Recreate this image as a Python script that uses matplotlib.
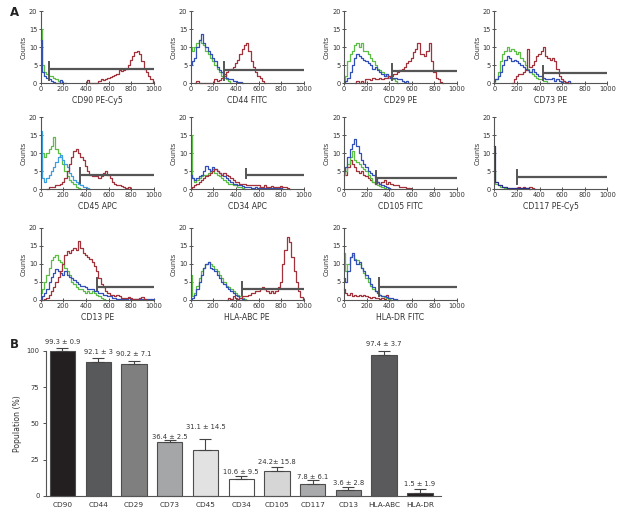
import numpy as np
import matplotlib
matplotlib.use('Agg')
import matplotlib.pyplot as plt

plt.rcParams['font.family'] = ['DejaVu Sans']

# ---- panel A: histogram curves, (first channel, counts every 20 channels) ----
cd90_green = (0, [15, 5, 3, 2.5, 2, 2, 1.5, 1, 0.5, 0])
cd90_blue = (0, [12, 3, 2, 1.5, 1, 0.5, 0.3, 0, 0, 0.8, 0, 0])
cd90_red = (400, [0, 0.8, 0, 0, 0, 0, 0.5, 1, 0.8, 1.2, 1.5, 1.6, 2, 2.3, 2.5, 3.5,
                  3.3, 3.6, 4, 5, 6.5, 7.5, 8.5, 9, 8, 6, 4, 3, 2, 1, 0])

cd44_green = (0, [10, 9, 10, 11, 12, 11, 10.5, 9, 8, 7, 6, 5, 4, 3, 2, 1.5, 1, 0.5, 0])
cd44_blue = (0, [5, 6, 7, 10, 12, 13.5, 11, 10, 9, 8, 7, 6, 4.5, 3.5, 3, 2.5, 1.5, 1,
                 1, 0.5, 0.5, 0.3, 0.3, 0])
cd44_red = (40, [0, 0.5, 0, 0, 0, 0, 0, 0, 0, 1, 0.5, 0.8, 1.5, 2, 3, 3.5, 4, 4.5,
                 5.5, 6.5, 8, 9.5, 10.5, 11, 9, 6, 4.5, 3, 2, 1.5, 0.5, 0])

cd29_green = (0, [0, 2, 6, 8, 9, 10.5, 11, 10, 11, 9, 9, 8, 7, 6, 5, 4, 3.5, 3, 2.5, 2,
                  1.5, 1.5, 1, 0.5, 0])
cd29_blue = (0, [0, 0.5, 1.5, 3, 5, 7, 8, 7.5, 7, 6.5, 6, 5.5, 5, 4, 4.5, 3.5, 3, 2.5,
                 2, 2.5, 2, 1.5, 1.5, 1.5, 1, 1, 0.5, 0.3, 0.5, 0])
cd29_red = (100, [0, 0.5, 0, 0.5, 0, 1, 1, 0.7, 1.5, 1, 1, 1.5, 1, 1.5, 1.5, 2, 2, 2.5,
                  2.5, 3, 3.5, 4, 4.5, 5.5, 6, 7, 8.5, 9.5, 11, 8, 8, 7.5, 9, 11, 6,
                  3, 1.5, 1, 0.3, 0])

cd73_green = (0, [0, 1, 3, 6, 8, 9, 10, 9, 9.5, 9, 8, 8.5, 7, 6, 5, 4, 3, 2.5, 2, 1.5,
                  1, 1, 0.5, 0.5, 0])
cd73_blue = (0, [0.5, 1, 2, 3, 5, 6.5, 7.5, 7, 6, 6.5, 6, 5.5, 5, 4.5, 4, 3.5, 3, 4, 3,
                 2.5, 2, 2, 1.5, 1, 1, 1, 1.5, 0.5, 1, 0.5, 0.3, 0.5, 0, 0.5, 0])
cd73_red = (160, [0, 1, 2, 2.5, 2.5, 3, 3.5, 9.5, 4.5, 5, 6, 7.5, 8, 9, 10, 7.5, 7,
                  6.5, 7, 6, 4, 2, 1, 0.5, 0.3, 0])

cd45_green = (0, [4, 10, 9, 10, 11, 12, 14.5, 11, 10, 9, 7, 5, 3.5, 2.5, 2, 1.5, 0.5,
                  0.3, 0])
cd45_cyan = (0, [16, 3, 2, 3, 4, 5, 6, 7.5, 9, 9.5, 8, 7, 6, 4.5, 3.5, 2.5, 2, 1.5, 1,
                 0.5, 0.5, 0.3, 0])
cd45_red = (60, [0, 0.5, 0.5, 0.5, 1, 1, 1.5, 2, 3, 5, 7, 9, 10.5, 11, 10, 9, 8, 6.5,
                 5, 4, 3.5, 3.5, 3.5, 3, 3.5, 4.5, 5, 4, 3, 2, 1.5, 1, 1, 0.7, 0.5,
                 0.3, 0.5, 0])

cd34_green = (0, [15, 3, 2, 2.5, 3, 3.5, 4, 4, 4.5, 5, 5.5, 4.5, 4, 3.5, 3, 2.5, 2,
                  1.5, 1.5, 1, 1, 0.5, 0.5, 0.3, 0])
cd34_blue = (0, [4, 3, 2.5, 3, 3.5, 4, 5, 6.5, 5.5, 5, 6, 5.5, 5, 4.5, 4, 3.5, 3, 2.5,
                 2, 1.5, 1.5, 1, 1, 0.8, 0.5, 0.5, 0.5, 0.3, 0.3, 0.5, 0.3, 0.3, 0.3,
                 0.2, 0.2, 0.2, 0.2, 0.2, 0.2, 0.2, 0.2, 0])
cd34_red = (0, [0, 0.5, 1, 1.5, 2, 2.5, 3, 3.5, 4, 4.5, 5, 5.5, 5, 4.5, 4, 4.5, 4, 3.5,
                3, 2.5, 2, 2, 1.5, 1.5, 1.5, 1, 1, 1, 1, 1, 1, 0.5, 0.5, 1, 0.5, 0.5,
                0.8, 0.5, 0.5, 0.5, 0.8, 0.5, 0.5, 0.3, 0])

cd105_green = (0, [4, 5, 7, 9, 10.5, 8, 7.5, 7, 6, 5.5, 5, 4, 3, 2, 1.5, 1, 0.8, 0.5,
                   0.3, 0])
cd105_blue = (0, [5, 6, 9, 11, 12.5, 14, 12, 10, 8, 7, 6, 5, 4.5, 4, 3, 2, 1.5, 1, 0.8,
                  0.5, 0.3, 0])
cd105_red = (0, [5, 4, 6, 8, 7, 6, 5, 4.5, 5, 4, 3.5, 3, 2.5, 2, 1.5, 2, 1.5, 2, 2.5,
                 1.5, 2, 1.5, 1, 1, 1, 0.5, 0.5, 0.5, 0.3, 0.3, 0])

cd117_green = (0, [5, 1.5, 1, 0.5, 0.5, 0.3, 0.3, 0])
cd117_blue = (0, [12, 2, 1, 1, 0.5, 0.5, 0.3, 0.3, 0.3, 0.3, 0.3, 0.3, 0.3, 0.3, 0.3,
                  0.3, 0])
cd117_red = (180, [0, 0.3, 0.5, 0.3, 0.5, 0.3, 0.3, 0.5, 0.3, 0])

cd13_green = (0, [2, 3, 5, 7, 9, 11, 12, 12.5, 11, 10.5, 10, 9, 8, 7, 5, 4.5, 3.5, 3,
                  3, 2.5, 2, 2.5, 2, 2.5, 2, 1.5, 1, 0.5, 0.3, 0])
cd13_blue = (0, [0, 1, 2, 3, 5, 6.5, 7.5, 8.5, 8, 7.5, 7, 8, 7, 6.5, 6, 5.5, 5, 4.5, 4,
                 4, 3.5, 3, 3, 3, 2.5, 2.5, 2, 2, 1.5, 1.5, 1, 1, 0.5, 0.5, 0.3, 0.3,
                 0.3, 0.3, 0.3, 0.5, 0.3, 0.3, 0.3, 0.3, 0.3, 0.3, 0.3, 0.3, 0.3, 0.3,
                 0.3])
cd13_red = (0, [0, 0, 0.3, 0.5, 1.5, 2.5, 3.5, 5, 6.5, 8, 10, 12.5, 13.5, 13, 14, 14.5,
                14, 16.5, 14.5, 13, 12.5, 12, 11.5, 10.5, 9.5, 8, 6, 4.5, 3.5, 2.5, 2,
                1.5, 1.5, 1, 1.5, 1, 0.5, 0.5, 0.5, 0.8, 0.5, 0.3, 0.3, 0.3, 0.5, 0.8,
                0.3, 0])

hlaabc_green = (0, [7, 1, 2, 4, 6, 8, 9, 10, 10.5, 10, 9.5, 8.5, 8, 7, 6, 5, 4, 3.5, 3,
                    2.5, 2, 1.5, 1, 0.5, 0.3, 0])
hlaabc_blue = (0, [0, 0.5, 1.5, 3, 5, 7, 9, 10, 10.5, 9, 8.5, 8, 7, 6, 5, 4.5, 3.5, 3,
                   2.5, 2, 1.5, 1, 0.5, 0.3, 0])
hlaabc_red = (320, [0, 0.5, 0.3, 1, 0.5, 0.3, 0.5, 1, 1, 1, 1.5, 2, 2, 2.5, 2.5, 3,
                    3.5, 3, 2.5, 2, 2.5, 2, 2.5, 3.5, 5, 10, 14, 17.5, 16, 12, 8, 5,
                    2.5, 0.8, 0])

hladr_green = (0, [13, 8, 10, 12, 12.5, 11.5, 11, 10, 9, 7.5, 6, 5, 4, 3, 2.5, 2, 1.5,
                   1, 0.8, 0.5, 0.3, 0])
hladr_blue = (0, [6, 5, 8, 12, 13, 11, 10, 10.5, 9, 8, 7, 6, 4.5, 3.5, 2.5, 2, 1.5, 1,
                  1, 0.8, 0.5, 0.5, 0.3, 0.3, 0])
hladr_red = (0, [3, 2, 1.5, 2, 1, 1.5, 1, 1.5, 1, 1.5, 1, 0.8, 0.5, 0.8, 0.5, 0.5, 0.3,
                 0.5, 0.3, 1.5, 0.5, 0])

# gate marker: (start channel, level, tick bottom, tick top)
panel_labels = ['CD90 PE-Cy5', 'CD44 FITC', 'CD29 PE', 'CD73 PE',
                'CD45 APC', 'CD34 APC', 'CD105 FITC', 'CD117 PE-Cy5',
                'CD13 PE', 'HLA-ABC PE', 'HLA-DR FITC']
panel_curves = [
    [(cd90_green, 'g'), (cd90_blue, 'b'), (cd90_red, 'r')],
    [(cd44_green, 'g'), (cd44_blue, 'b'), (cd44_red, 'r')],
    [(cd29_green, 'g'), (cd29_blue, 'b'), (cd29_red, 'r')],
    [(cd73_green, 'g'), (cd73_blue, 'b'), (cd73_red, 'r')],
    [(cd45_green, 'g'), (cd45_cyan, 'c'), (cd45_red, 'r')],
    [(cd34_green, 'g'), (cd34_blue, 'b'), (cd34_red, 'r')],
    [(cd105_red, 'r'), (cd105_green, 'g'), (cd105_blue, 'b')],
    [(cd117_green, 'g'), (cd117_red, 'r'), (cd117_blue, 'n')],
    [(cd13_green, 'g'), (cd13_blue, 'b'), (cd13_red, 'r')],
    [(hlaabc_green, 'g'), (hlaabc_blue, 'b'), (hlaabc_red, 'r')],
    [(hladr_red, 'r'), (hladr_green, 'g'), (hladr_blue, 'b')],
]
gates = [(76, 3.9, 0.9, 5.7), (294, 3.5, 0.9, 5.7), (423, 3.2, 0.7, 5.3),
         (427, 2.8, 0.9, 4.8), (347, 3.9, 1.6, 5.9), (488, 3.9, 3.0, 5.5),
         (284, 3.1, 1.3, 5.0), (199, 3.4, 1.3, 5.4), (494, 3.7, 2.8, 6.0),
         (450, 3.0, 1.4, 4.9), (312, 3.7, 1.2, 6.0)]

# ---- panel B: bar chart ----
markers = ['CD90', 'CD44', 'CD29', 'CD73', 'CD45', 'CD34', 'CD105', 'CD117',
           'CD13', 'HLA-ABC', 'HLA-DR']
bar_height = [100, 92.4, 90.8, 37, 31.4, 11.7, 17.2, 8.0, 4.1, 97.3, 1.8]
bar_err = [1.6, 2.3, 2.2, 1.5, 8.0, 2.1, 2.5, 2.8, 2.1, 2.7, 2.8]
bar_text = ['99.3 ± 0.9', '92.1 ± 3', '90.2 ± 7.1', '36.4 ± 2.5', '31.1 ± 14.5',
            '10.6 ± 9.5', '24.2± 15.8', '7.8 ± 6.1', '3.6 ± 2.8', '97.4 ± 3.7',
            '1.5 ± 1.9']

line_colors = {'g': '#5cbf45', 'b': '#3350b8', 'c': '#3d9fe0', 'r': '#a2323c',
               'n': '#2a2f8a'}
bar_colors = ['#231f20', '#58595b', '#7f7f80', '#a5a6a8', '#e2e2e2', '#ffffff',
              '#d6d6d6', '#a9aaac', '#868688', '#5a5a5c', '#231f20']
label_pad = [4.6, 4.2, 4.7, 2.3, 8.1, 2.9, 3.9, 2.5, 2.9, 4.4, 3.7]
TXT = '#333333'
AX = '#555555'

W, H = 626, 519
fig = plt.figure(figsize=(W / 100, H / 100), dpi=100)

col_left = [40.7, 190.7, 344, 494.3]
row_bottom = [83, 189, 300]
ax_w, ax_h = 113, 72

for k, name in enumerate(panel_labels):
    r, c = divmod(k, 4)
    ax = fig.add_axes([col_left[c] / W, 1 - row_bottom[r] / H, ax_w / W, ax_h / H])
    for (start, vals), key in panel_curves[k]:
        x = start + 20 * np.arange(len(vals))
        ax.plot(x, vals, color=line_colors[key], lw=0.9, drawstyle='steps-mid',
                clip_on=False)
    g0, lvl, lo, hi = gates[k]
    ax.plot([g0, 1000], [lvl, lvl], color='#555555', lw=1.6, solid_capstyle='butt')
    ax.plot([g0, g0], [lo, hi], color='#555555', lw=1.4)
    ax.set_xlim(0, 1000)
    ax.set_ylim(0, 20)
    ax.set_xticks(range(0, 1001, 200))
    ax.set_yticks(range(0, 21, 5))
    for s in ['top', 'right']:
        ax.spines[s].set_visible(False)
    for s in ['left', 'bottom']:
        ax.spines[s].set_color(AX)
        ax.spines[s].set_linewidth(0.8)
    ax.tick_params(labelsize=4.8, colors=TXT, length=2.5, width=0.6, pad=1.2,
                   direction='inout')
    ax.set_xlabel(name, fontsize=5.6, color=TXT, labelpad=2.5)
    ax.set_ylabel('Counts', fontsize=4.8, color=TXT, labelpad=1.5)

fig.text(10 / W, 1 - 13 / H, 'A', fontsize=8.5, fontweight='bold', va='center',
         color='#222222')
fig.text(10 / W, 1 - 344 / H, 'B', fontsize=8.5, fontweight='bold', va='center',
         color='#222222')

axb = fig.add_axes([45.7 / W, 1 - 496 / H, (441 - 45.7) / W, 145.3 / H])
pos = np.arange(len(markers))
axb.bar(pos, bar_height, width=0.71, color=bar_colors, edgecolor='#4d4d4d',
        linewidth=0.8, clip_on=False, zorder=2)
axb.errorbar(pos, bar_height, yerr=[np.zeros(len(pos)), bar_err], fmt='none',
             ecolor='#444444', elinewidth=0.8, capsize=4.5, capthick=0.8,
             clip_on=False, zorder=3)
for i, t in enumerate(bar_text):
    axb.text(pos[i], bar_height[i] + bar_err[i] + label_pad[i], t, ha='center',
             va='center', fontsize=4.9, color=TXT, clip_on=False)
axb.set_xlim(-0.47, 10.59)
axb.set_ylim(0, 100)
axb.set_yticks([0, 25, 50, 75, 100])
axb.set_xticks(pos)
axb.set_xticklabels(markers)
for s in ['top', 'right']:
    axb.spines[s].set_visible(False)
for s in ['left', 'bottom']:
    axb.spines[s].set_color(AX)
    axb.spines[s].set_linewidth(0.8)
axb.tick_params(axis='y', labelsize=4.9, colors=TXT, length=2.5, width=0.6, pad=2)
axb.tick_params(axis='x', labelsize=5.3, colors=TXT, length=0, pad=4.5)
axb.set_ylabel('Population (%)', fontsize=5.6, color=TXT, labelpad=3)

fig.savefig('out.png', dpi=100)
